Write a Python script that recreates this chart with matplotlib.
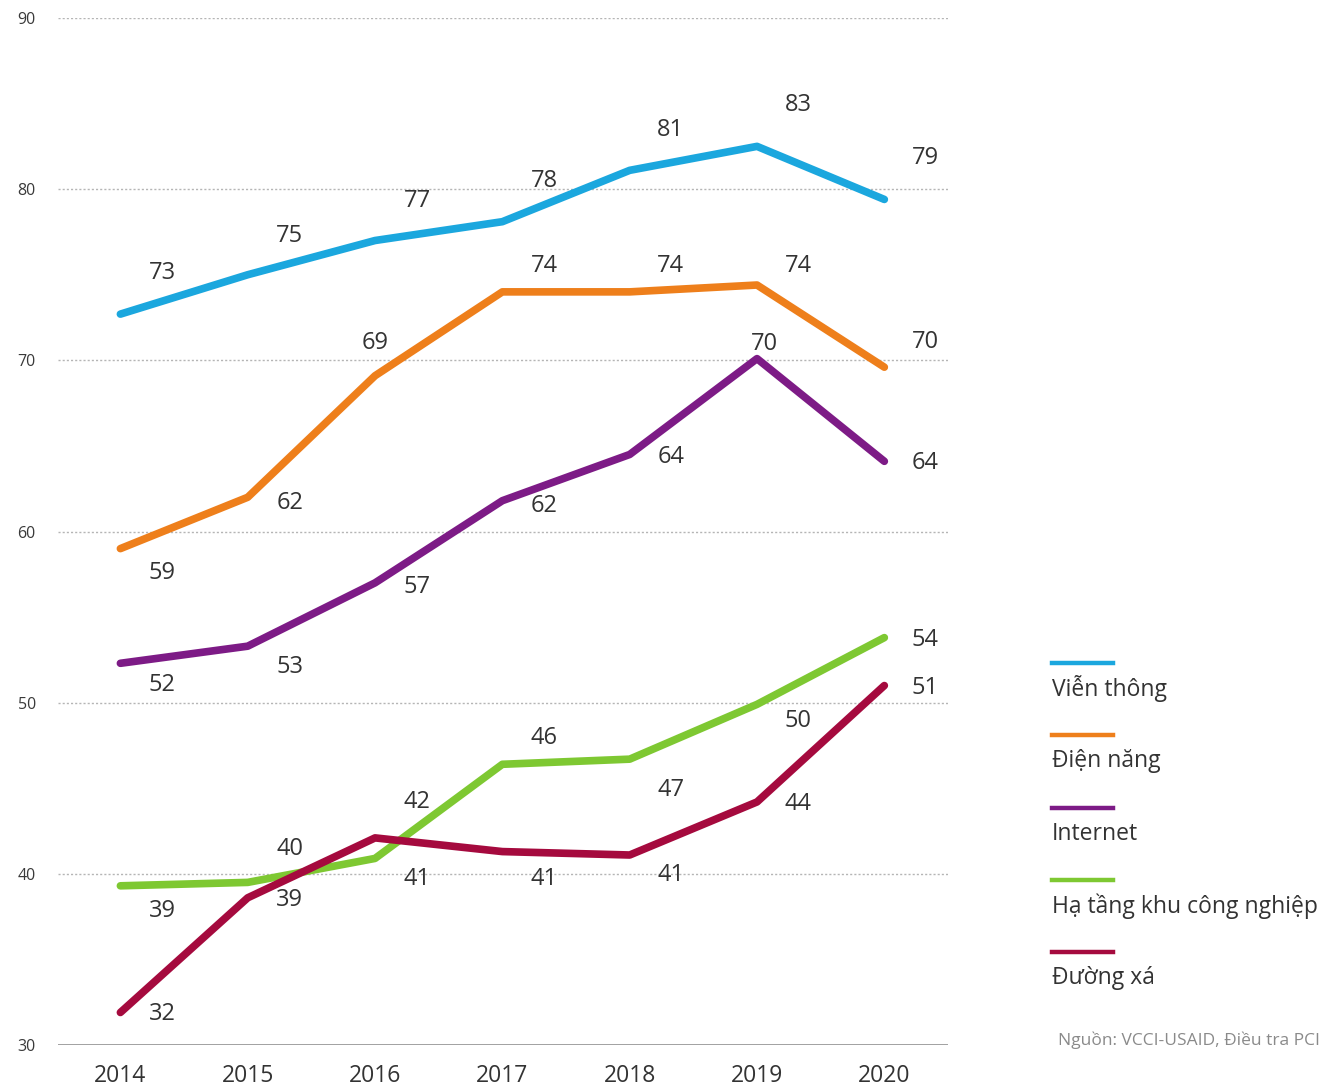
import matplotlib
matplotlib.use("Agg")
import matplotlib.pyplot as plt
from matplotlib.lines import Line2D
from matplotlib import font_manager

years = ["2014", "2015", "2016", "2017", "2018", "2019", "2020"]
series_names = ["Viễn thông", "Điện năng", "Internet", "Hạ tầng khu công nghiệp", "Đường xá"]
vien_thong = [72.7, 75.0, 77.0, 78.1, 81.1, 82.5, 79.4]
dien_nang = [59.0, 62.0, 69.1, 74.0, 74.0, 74.4, 69.6]
internet = [52.3, 53.3, 57.0, 61.8, 64.5, 70.1, 64.1]
ha_tang = [39.3, 39.5, 40.9, 46.4, 46.7, 49.9, 53.8]
duong_xa = [31.9, 38.6, 42.1, 41.3, 41.1, 44.2, 51.0]
labels_vien_thong = [73, 75, 77, 78, 81, 83, 79]
labels_dien_nang = [59, 62, 69, 74, 74, 74, 70]
labels_internet = [52, 53, 57, 62, 64, 70, 64]
labels_ha_tang = [39, 40, 42, 46, 47, 50, 54]
labels_duong_xa = [32, 39, 41, 41, 41, 44, 51]
y_ticks = [30, 40, 50, 60, 70, 80, 90]
source = "Nguồn: VCCI-USAID, Điều tra PCI"

colors = ["#1ba7de", "#ee7f1b", "#7d1b86", "#7ec832", "#a50a3e"]
# label offsets in pixels (dx right, dy down)
offsets = [
    [(42, -41), (42, -39), (42, -40), (42, -41), (41, -40), (41, -41), (41, -41)],
    [(42, 24), (42, 6), (0, -33), (42, -26), (41, -26), (41, -19), (41, -25)],
    [(42, 22), (42, 21), (42, 4), (42, 5), (41, 3), (7, -15), (41, 2)],
    [(42, 25), (42, -33), (42, -56), (42, -26), (41, 31), (41, 17), (41, 2)],
    [(42, 2), (42, 2), (42, 41), (42, 27), (41, 20), (41, 2), (41, 2)],
]

avail = {f.name for f in font_manager.fontManager.ttflist}
fam = "Liberation Sans Narrow" if "Liberation Sans Narrow" in avail else "Open Sans"
plt.rcParams["font.family"] = [fam, "DejaVu Sans"]

fig = plt.figure(figsize=(13.24, 10.87), dpi=100)
ax = fig.add_axes([58 / 1324, 1 - 1045 / 1087, (948 - 58) / 1324, (1045 - 18) / 1087])

x = list(range(len(years)))
all_vals = [vien_thong, dien_nang, internet, ha_tang, duong_xa]
all_labels = [labels_vien_thong, labels_dien_nang, labels_internet, labels_ha_tang, labels_duong_xa]

for yv in y_ticks[1:]:
    ax.axhline(yv, color="#b5b5b5", lw=1.0, ls=(0, (1.5, 1.5)), zorder=0)
ax.axhline(30, color="#9a9a9a", lw=1.3, zorder=0)

for vals, labs, col, offs in zip(all_vals, all_labels, colors, offsets):
    ax.plot(x, vals, color=col, lw=5.5, solid_capstyle="round", solid_joinstyle="round", zorder=2)
    for xi, v, lab, (dx, dy) in zip(x, vals, labs, offs):
        ax.annotate(str(lab), (xi, v), xytext=(dx, -dy), textcoords="offset pixels",
                    ha="center", va="center", fontsize=17, color="#333333", zorder=3)

ax.set_xlim(-0.49, 6.5)
ax.set_ylim(30, 90)
ax.set_yticks(y_ticks)
ax.set_yticklabels([str(t) for t in y_ticks], fontsize=11.5, color="#3a3a3a")
ax.set_xticks(x)
ax.set_xticklabels(years, fontsize=16.5, color="#333333")
ax.tick_params(axis="y", length=0, pad=16)
ax.tick_params(axis="x", length=0, pad=14)
for s in ax.spines.values():
    s.set_visible(False)

# legend
W, H = 1324, 1087
for i, (name, col) in enumerate(zip(series_names, colors)):
    ly = 663 + i * 72.3
    fig.add_artist(Line2D([1052 / W, 1113 / W], [1 - ly / H, 1 - ly / H], color=col, lw=3.2,
                          transform=fig.transFigure))
    fig.text(1052 / W, 1 - (ly + 26) / H, name, fontsize=16.5, color="#333333", ha="left", va="center")

fig.text(1320 / W, 1 - 1040 / H, source, fontsize=12.5, color="#8a8a8a", ha="right", va="center")

fig.savefig("out.png", dpi=100, facecolor="white")
